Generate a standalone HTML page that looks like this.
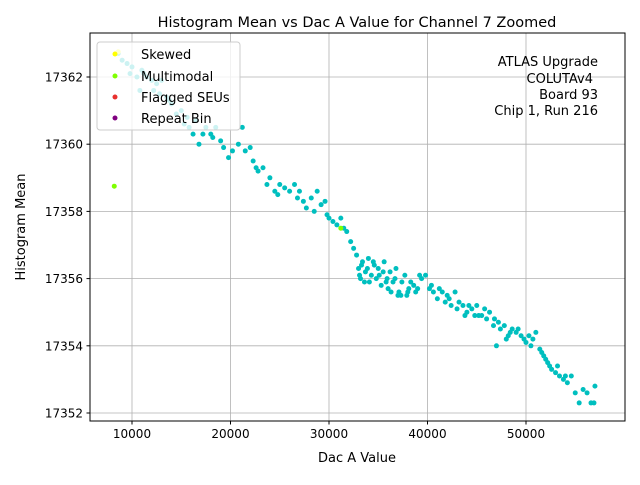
<!DOCTYPE html>
<html><head><meta charset="utf-8"><style>
body{margin:0;background:#fff;}
svg text{font-family:"DejaVu Sans","Liberation Sans",sans-serif;fill:#000;}
</style></head><body>
<svg id="chart" width="640" height="480" xmlns="http://www.w3.org/2000/svg">
<rect width="640" height="480" fill="#fff"/>
<text x="357" y="27" font-size="14.5" text-anchor="middle">Histogram Mean vs Dac A Value for Channel 7 Zoomed</text>
<g id="grid"></g><g id="ticks"></g><g id="pts"></g>
<rect x="90" y="33" width="535" height="388" fill="none" stroke="#000" stroke-width="1"/>
<g>
<rect x="97" y="42" width="143" height="88" rx="3" fill="#fff" fill-opacity="0.8" stroke="#ccc"/>
<circle cx="115" cy="54" r="2.5" fill="#ffff00"/><text x="141" y="59" font-size="13">Skewed</text>
<circle cx="115" cy="76" r="2.5" fill="#7fff00"/><text x="141" y="81" font-size="13">Multimodal</text>
<circle cx="115" cy="97" r="2.5" fill="#e8302e"/><text x="141" y="102" font-size="13">Flagged SEUs</text>
<circle cx="115" cy="118" r="2.5" fill="#800080"/><text x="141" y="123" font-size="13">Repeat Bin</text>
</g>
<g font-size="13">
<text x="598" y="66" text-anchor="end">ATLAS Upgrade</text>
<text x="593" y="83" text-anchor="end">COLUTAv4</text>
<text x="598" y="99" text-anchor="end">Board 93</text>
<text x="598" y="115" text-anchor="end">Chip 1, Run 216</text>
</g>
<text x="357" y="462" font-size="13" text-anchor="middle">Dac A Value</text>
<text transform="translate(25,227) rotate(-90)" font-size="13" text-anchor="middle">Histogram Mean</text>
</svg>
<script>
const xTicks=[10000,20000,30000,40000,50000];
const yTicks=[17352,17354,17356,17358,17360,17362];
const normalPts=[[8600,17362.7],[9000,17362.5],[9500,17362.4],[10000,17362.3],[10500,17362.0],[11000,17362.2],[11500,17362.0],[12000,17361.9],[12500,17361.8],[10800,17361.6],[13000,17361.9],[12800,17361.5],[13500,17361.4],[14000,17361.2],[14500,17360.9],[15000,17361.0],[15300,17360.6],[15800,17360.5],[16200,17360.3],[16500,17360.7],[16800,17360.0],[17500,17360.5],[18000,17360.3],[18500,17360.5],[19000,17360.1],[19300,17359.9],[19800,17359.6],[20200,17359.8],[20800,17360.0],[21200,17360.5],[21500,17359.8],[22000,17359.9],[22300,17359.5],[22800,17359.2],[23300,17359.3],[23700,17358.8],[24000,17359.0],[24500,17358.6],[25000,17358.8],[25500,17358.7],[26000,17358.6],[26500,17358.8],[27000,17358.6],[27400,17358.3],[27700,17358.1],[28200,17358.4],[28800,17358.6],[29200,17358.2],[29600,17358.3],[30000,17357.8],[30400,17357.7],[30800,17357.6],[31200,17357.8],[31500,17357.5],[31800,17357.4],[32200,17357.1],[32500,17356.9],[32800,17356.7],[33000,17356.3],[33200,17356.0],[33400,17356.5],[33700,17356.2],[34000,17356.6],[34300,17356.1],[34600,17356.4],[35000,17356.3],[35300,17355.8],[35600,17356.5],[35900,17356.0],[36200,17356.2],[36500,17355.9],[36800,17356.3],[37100,17355.6],[37400,17355.9],[37700,17356.1],[38000,17355.6],[38300,17355.9],[38600,17355.8],[39000,17355.7],[39400,17356.0],[39800,17356.1],[40200,17355.7],[40600,17355.6],[41000,17355.4],[41500,17355.6],[42000,17355.5],[42400,17355.2],[42800,17355.6],[43200,17355.3],[43600,17355.2],[44000,17355.0],[44500,17355.1],[45000,17355.2],[45500,17354.9],[46000,17354.8],[46300,17355.0],[46700,17354.6],[47000,17354.0],[47400,17354.5],[47800,17354.6],[48200,17354.3],[48600,17354.5],[49000,17354.4],[49500,17354.3],[50000,17354.1],[50300,17354.3],[50700,17354.2],[51000,17354.4],[51400,17353.9],[51800,17353.7],[52200,17353.5],[52600,17353.3],[53000,17353.2],[53400,17353.1],[53800,17353.0],[54200,17352.9],[54600,17353.1],[55000,17352.6],[55400,17352.3],[55800,17352.7],[56200,17352.6],[56600,17352.3],[57000,17352.8],[33100,17356.1],[33600,17355.9],[34800,17356.0],[35500,17356.2],[36000,17355.7],[37300,17355.5],[37900,17355.5],[39200,17356.1],[41200,17355.7],[43800,17354.9],[45200,17354.9],[48000,17354.2],[52000,17353.6],[49800,17354.2],[11200,17362.1],[13800,17361.3],[17200,17360.3],[24800,17358.5],[28500,17358.0],[41800,17355.3],[46800,17354.8],[53200,17353.4],[56900,17352.3],[33300,17356.4],[33900,17356.3],[34100,17355.9],[34500,17356.5],[35100,17356.1],[35800,17355.9],[36300,17355.6],[36700,17356.0],[37000,17355.5],[38100,17355.7],[38800,17355.6],[40400,17355.8],[42200,17355.4],[43000,17355.1],[44200,17355.2],[44800,17354.9],[45800,17355.1],[47200,17354.7],[48400,17354.4],[49200,17354.5],[50500,17354.0],[51600,17353.8],[52400,17353.4],[54000,17353.1],[29800,17357.9],[26800,17358.4],[22600,17359.3],[18200,17360.2],[15600,17360.8],[12200,17361.6],[9800,17362.1]];
const multimodalPts=[[8200,17358.75],[31200,17357.5]];
const skewedPts=[[8600,17362.75]];
const X=v=>132+(v-10000)*0.00985;
const Y=v=>77+(17362-v)*33.6;
const NS='http://www.w3.org/2000/svg';
const grid=document.getElementById('grid'),ticks=document.getElementById('ticks'),pts=document.getElementById('pts');
function mk(tag,attrs,parent){const e=document.createElementNS(NS,tag);for(const k in attrs)e.setAttribute(k,attrs[k]);parent.appendChild(e);return e;}
xTicks.forEach(t=>{const x=X(t);
const g=mk('line',{x1:x,x2:x,y1:33,y2:421,stroke:'#b0b0b0','stroke-width':0.8},grid);


mk('line',{x1:x,x2:x,y1:421,y2:424.5,stroke:'#000'},ticks);
const tx=mk('text',{x:x,y:438,'font-size':12,'text-anchor':'middle'},ticks);tx.textContent=t;

});
yTicks.forEach(t=>{const y=Y(t);
const g=mk('line',{x1:90,x2:625,y1:y,y2:y,stroke:'#b0b0b0','stroke-width':0.8},grid);


mk('line',{x1:86.5,x2:90,y1:y,y2:y,stroke:'#000'},ticks);
const tx=mk('text',{x:83,y:y+4.5,'font-size':12,'text-anchor':'end'},ticks);tx.textContent=t;

});
function draw(arr,color,name){arr.forEach(p=>{const c=mk('circle',{cx:X(p[0]),cy:Y(p[1]),r:2.5,fill:color},pts);

});}
draw(normalPts,'#00bfbf','normal-point');
draw(multimodalPts,'#7fff00','multimodal-point');
draw(skewedPts,'#ffff00','skewed-point');
</script>
</body></html>
